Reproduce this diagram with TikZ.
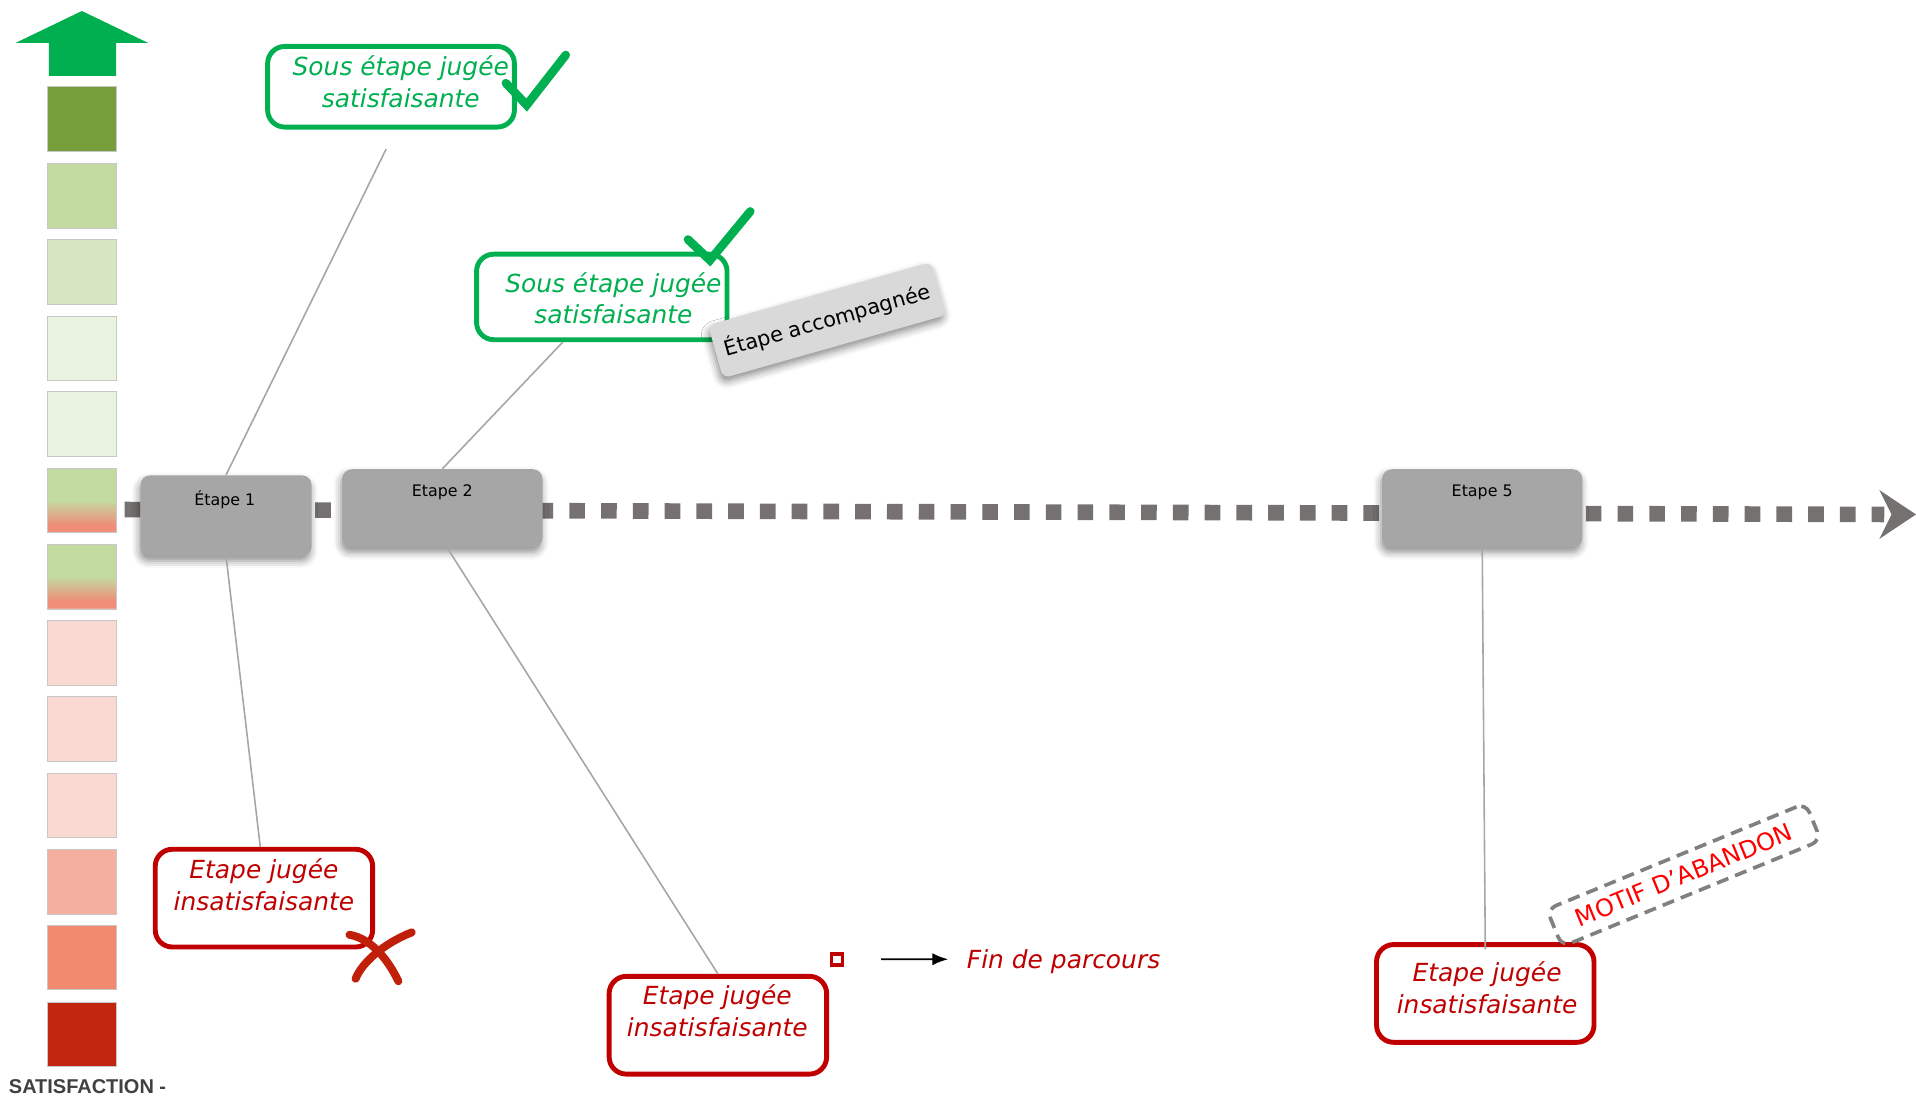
\documentclass[tikz,border=0pt]{standalone}
\usepackage{fontspec}
\setmainfont{DejaVu Sans}
\newfontfamily\arialfont{Liberation Sans}
\usetikzlibrary{shadows,shadows.blur,arrows.meta,calc}
\definecolor{okgreen}{HTML}{00B050}
\definecolor{kored}{HTML}{C00000}
\definecolor{xred}{HTML}{C0200A}
\definecolor{stepgray}{HTML}{A6A6A6}
\definecolor{dotgray}{HTML}{767171}
\definecolor{conngray}{HTML}{A6A6A6}
\definecolor{accgray}{HTML}{D9D9D9}
\definecolor{satgray}{HTML}{404040}
\definecolor{sqA}{RGB}{118,158,58}
\definecolor{sqB}{HTML}{C3DBA0}
\definecolor{sqC}{HTML}{D7E6C2}
\definecolor{sqD}{HTML}{EAF2E0}
\definecolor{sqE}{HTML}{FBD9D3}
\definecolor{sqF}{HTML}{F5AFA0}
\definecolor{sqG}{HTML}{F28A70}
\definecolor{sqH}{HTML}{C3260F}
\definecolor{salmon}{HTML}{F08C78}
\pgfdeclareverticalshading{grgrad}{100bp}{color(0bp)=(salmon!45!white); color(25bp)=(salmon!45!white); color(26.5bp)=(salmon); color(31bp)=(salmon); color(50bp)=(sqB); color(100bp)=(sqB)}
\begin{document}
\begin{tikzpicture}[x=0.02cm,y=-0.02cm,
  sqbox/.style={draw=black!22, line width=0.3pt, minimum width=1.14cm, minimum height=1.06cm, inner sep=0},
  softshadow/.style={blur shadow={shadow xshift=-0.02cm, shadow yshift=-0.08cm, shadow blur radius=0.12cm, shadow opacity=45}},
  stepbox/.style={fill=stepgray, rounded corners=0.16cm, inner sep=0, softshadow},
  steplbl/.style={font=\fontsize{7.4pt}{8.5pt}\selectfont, inner sep=0},
  okbox/.style={draw=okgreen, line width=0.08cm, rounded corners=0.28cm, fill=white, minimum width=4.04cm, minimum height=1.32cm, inner sep=0},
  kobox/.style={draw=kored, line width=0.08cm, rounded corners=0.28cm, fill=white, minimum width=3.56cm, minimum height=1.6cm, inner sep=0},
  oktxt/.style={text=okgreen, font=\itshape\fontsize{11.6pt}{14.8pt}\selectfont, align=center, inner sep=0},
  kotxt/.style={text=kored, font=\itshape\fontsize{11.6pt}{14.8pt}\selectfont, align=center, inner sep=0},
  conn/.style={draw=conngray, line width=0.026cm},
  check/.style={draw=okgreen, line width=0.14cm, line cap=round, line join=miter},
  xmark/.style={draw=xred, line width=0.13cm, line cap=round}
]
\useasboundingbox (0,0) rectangle (1568,899);

% satisfaction scale
\fill[okgreen] (40,62) -- (40,35) -- (13,35) -- (67,9) -- (121,35) -- (95,35) -- (95,62) -- cycle;
\foreach \i/\c/\yy in {1/sqA/97.5, 2/sqB/160, 3/sqC/222.5, 4/sqD/285, 5/sqD/347, 8/sqE/534.5, 9/sqE/596.5, 10/sqE/659, 11/sqF/721.5, 12/sqG/783.5, 13/sqH/846.5}
  \node[sqbox, fill=\c] (sq\i) at (67,\yy) {};
\node[sqbox, shading=grgrad] (sq6) at (67,409.5) {};
\node[sqbox, shading=grgrad] (sq7) at (67,472) {};
\node[anchor=base west, inner sep=0, text=satgray, font=\arialfont\bfseries\fontsize{9.3pt}{11pt}\selectfont] (sat) at (7,895) {SATISFACTION -};

% dotted timeline
\coordinate (dl0) at (102,417);
\coordinate (dl1) at (1542,421);
\draw[draw=dotgray, line width=0.256cm, dash pattern=on 0.256cm off 0.264cm] (dl0) -- (dl1);
\fill[dotgray] (1538,401) -- (1568,421) -- (1538,441) -- (1548,421) -- cycle;

% boxes
\coordinate (g1c) at (316,122);
\node[okbox] (g1) at (320,71) {};
\node[okbox, minimum width=4.1cm, minimum height=1.4cm] (g2) at (492.5,243) {};
\node[kobox] (r1) at (216,735) {};
\node[kobox] (r2) at (587.5,839) {};
\node[kobox] (r3) at (1215.5,813) {};

% step boxes
\node[stepbox, minimum width=2.8cm, minimum height=1.32cm] (e1) at (185,422) {};
\node[steplbl] (e1l) at (184,409) {Étape 1};
\node[stepbox, minimum width=3.28cm, minimum height=1.28cm] (e2) at (362,416) {};
\node[steplbl] (e2l) at (362,403) {Etape 2};
\node[stepbox, minimum width=3.28cm, minimum height=1.28cm] (e5) at (1213,416) {};
\node[steplbl] (e5l) at (1213,403) {Etape 5};

% connectors
\draw[conn] (g1c) -- (e1.north);
\draw[conn] ([xshift=-0.64cm]g2.south) -- (e2.north);
\draw[conn] (e1.south) -- ([xshift=-0.06cm]r1.north);
\draw[conn] ([xshift=0.08cm]e2.south) -- (r2.north);
\draw[conn] (e5.south) -- ([yshift=-0.12cm]r3.north);

% texts
\node[oktxt] (g1t) at (328,67) {Sous étape jugée\\satisfaisante};
\node[oktxt] (g2t) at (502,244) {Sous étape jugée\\satisfaisante};
\node[kotxt] (r1t) at (216,724) {Etape jugée\\insatisfaisante};
\node[kotxt] (r2t) at (587,827) {Etape jugée\\insatisfaisante};
\node[kotxt] (r3t) at (1217,808) {Etape jugée\\insatisfaisante};

% check marks and cross
\draw[check] (414,68) -- (431,86) -- (463,45);
\draw[check] (563,196) -- (581,213) -- (614,173);
\draw[xmark] (286,765) .. controls (304,768) and (318,786) .. (326,803);
\draw[xmark] (337,763) .. controls (314,772) and (296,788) .. (291,801);

% accompanied label
\node[fill=accgray, rotate=15.8, rounded corners=0.12cm, minimum width=3.8cm, minimum height=0.9cm, inner sep=0, font=\fontsize{9.7pt}{11pt}\selectfont, softshadow] (acc) at (677,262) {Étape accompagnée};

% end of journey legend
\node[draw=kored, line width=0.06cm, minimum size=0.18cm, inner sep=0] (endsq) at (685,785) {};
\node[anchor=west, inner sep=0, text=kored, font=\itshape\fontsize{11.6pt}{14pt}\selectfont] (fin) at (791,787) {Fin de parcours};
\coordinate (finA) at (721,785);
\draw[line width=0.03cm, -{Latex[length=0.26cm, width=0.2cm]}] (finA) -- ([xshift=-0.3cm,yshift=0.04cm]fin.west);

% abandon
\node[draw=black!50, dash pattern=on 0.2cm off 0.12cm, line width=0.06cm, rounded corners=0.16cm, rotate=22.3, minimum width=4.58cm, minimum height=0.66cm, inner sep=0, text=red, font=\fontsize{11.2pt}{13pt}\selectfont] (motif) at (1378,716) {MOTIF D’ABANDON};
\end{tikzpicture}
\end{document}
